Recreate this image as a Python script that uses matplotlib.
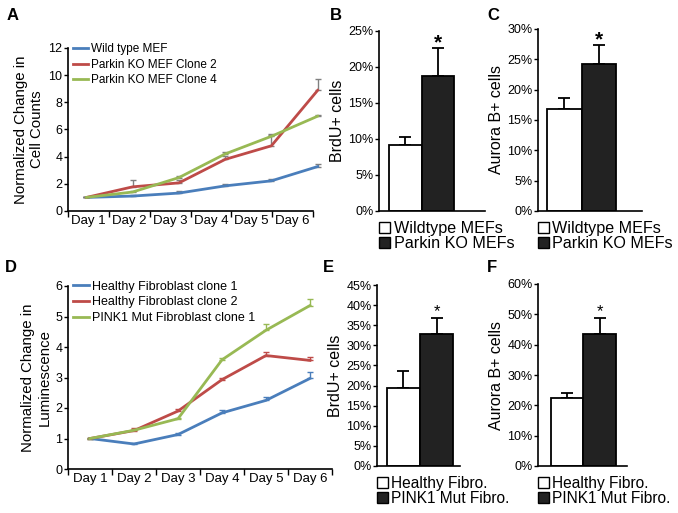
import matplotlib
matplotlib.use("Agg")
import matplotlib.pyplot as plt
import numpy as np
from matplotlib.patches import Patch

plt.rcParams['font.family'] = ['Liberation Sans', 'DejaVu Sans']

W, H = 678, 513
DPI = 100

# ---------------- data ----------------
days = ["Day 1", "Day 2", "Day 3", "Day 4", "Day 5", "Day 6"]

a_names = ["Wild type MEF", "Parkin KO MEF Clone 2", "Parkin KO MEF Clone 4"]
a_wt = [1.0, 1.1, 1.32, 1.85, 2.22, 3.27]
a_wt_err = [0.05, 0.08, 0.13, 0.15, 0.13, 0.17]
a_ko2 = [1.0, 1.78, 2.07, 3.8, 4.8, 8.88]
a_ko2_err = [0.05, 0.52, 0.2, 0.25, 0.85, 0.85]
a_ko4 = [1.0, 1.4, 2.46, 4.2, 5.5, 6.98]
a_ko4_err = [0.05, 0.1, 0.12, 0.15, 0.12, 0.1]

d_names = ["Healthy Fibroblast clone 1", "Healthy Fibroblast clone 2", "PINK1 Mut Fibroblast clone 1"]
d_h1 = [1.0, 0.82, 1.13, 1.84, 2.25, 2.97]
d_h1_err = [0.02, 0.03, 0.06, 0.1, 0.1, 0.22]
d_h2 = [1.0, 1.26, 1.9, 2.93, 3.72, 3.56]
d_h2_err = [0.02, 0.08, 0.08, 0.04, 0.1, 0.12]
d_pk = [1.0, 1.27, 1.65, 3.58, 4.55, 5.36]
d_pk_err = [0.02, 0.05, 0.03, 0.06, 0.22, 0.22]

mef_groups = ["Wildtype MEFs", "Parkin KO MEFs"]
fib_groups = ["Healthy Fibro.", "PINK1 Mut Fibro."]
b_vals = [9.1, 18.75]
b_err = [1.2, 3.85]
c_vals = [16.8, 24.2]
c_err = [1.9, 3.2]
e_vals = [19.5, 32.8]
e_err = [4.2, 4.1]
f_vals = [22.5, 43.5]
f_err = [1.7, 5.4]

colors = ["#4a7ebb", "#be4b48", "#98b954"]

fig = plt.figure(figsize=(W / DPI, H / DPI), dpi=DPI)


def add_ax(left, top, right, bottom):
    return fig.add_axes([left / W, 1 - bottom / H, (right - left) / W, (bottom - top) / H])


def style(ax):
    for s in ["top", "right"]:
        ax.spines[s].set_visible(False)
    for s in ["left", "bottom"]:
        ax.spines[s].set_linewidth(1.2)
    ax.tick_params(axis="y", direction="out", length=3, width=1.0, labelsize=9, pad=1)


def line_panel(ax, series, errs, names, xlim, ylim, yticks, err_colors, ylabel, legend_fs, leg_anchor):
    style(ax)
    x = np.arange(len(days))
    for s, e, c, n, ec in zip(series, errs, colors, names, err_colors):
        ax.plot(x, s, color=c, lw=2.0, label=n, clip_on=False, zorder=3)
        ax.errorbar(x, s, yerr=[np.zeros(len(e)), e], fmt="none", ecolor=ec,
                    elinewidth=1.0, capsize=2.5, capthick=1.0, clip_on=False, zorder=2)
    ax.set_xlim(*xlim)
    ax.set_ylim(*ylim)
    ax.set_yticks(yticks)
    bounds = np.linspace(xlim[0], xlim[1], len(days) + 1)
    mids = (bounds[:-1] + bounds[1:]) / 2
    ax.set_xticks(bounds)
    ax.set_xticklabels([""] * len(bounds))
    ax.set_xticks(mids, minor=True)
    ax.set_xticklabels(days, minor=True, fontsize=9.5)
    ax.tick_params(axis="x", which="major", direction="out", length=4, width=1.0)
    ax.tick_params(axis="x", which="minor", length=0, pad=3)
    ax.set_ylabel(ylabel, fontsize=10.8, linespacing=1.2, labelpad=3)
    ax.legend(loc="upper left", bbox_to_anchor=leg_anchor, frameon=False, fontsize=legend_fs,
              handlelength=1.25, handletextpad=0.25, labelspacing=0.3, borderaxespad=0,
              borderpad=0)


def bar_panel(ax, vals, errs, groups, xlim, ylim, yticks, ylabel, star_fs, star_weight, star_off,
              leg_fs):
    style(ax)
    x = np.arange(len(vals))
    ax.bar(x, vals, width=1.0, color=["white", "#222222"], edgecolor="black", linewidth=1.3, zorder=2)
    ax.errorbar(x, vals, yerr=[np.zeros(len(errs)), errs], fmt="none", ecolor="black",
                elinewidth=1.3, capsize=4.5, capthick=1.3, zorder=1)
    ax.text(x[1], vals[1] + errs[1] + star_off, "*", ha="center", va="bottom",
            fontsize=star_fs, fontweight=star_weight)
    ax.set_xlim(*xlim)
    ax.set_ylim(*ylim)
    ax.set_yticks(yticks)
    ax.set_yticklabels([f"{t:g}%" for t in yticks])
    ax.set_xticks([])
    ax.set_ylabel(ylabel, fontsize=11.5, labelpad=2)
    handles = [Patch(facecolor="white", edgecolor="black", linewidth=1.0),
               Patch(facecolor="#222222", edgecolor="black", linewidth=1.0)]
    ax.legend(handles, groups, loc="upper left", bbox_to_anchor=(0.0, -0.055), frameon=False,
              fontsize=leg_fs, handlelength=0.7, handleheight=0.7, handletextpad=0.2,
              labelspacing=0.0, borderaxespad=0, borderpad=0)


# Panel A
axA = add_ax(68, 48, 313, 211)
line_panel(axA, [a_wt, a_ko2, a_ko4], [a_wt_err, a_ko2_err, a_ko4_err], a_names,
           (-0.40, 4.90), (0, 12), np.arange(0, 13, 2), ["#808080"] * 3,
           "Normalized Change in\nCell Counts", 8.5, (0.02, 1.03))

# Panel D
axD = add_ax(68, 286, 332, 469)
line_panel(axD, [d_h1, d_h2, d_pk], [d_h1_err, d_h2_err, d_pk_err], d_names,
           (-0.5, 5.5), (0, 6), np.arange(0, 7, 1), colors,
           "Normalized Change in\nLuminescence", 9, (0.02, 1.03))

# Panel B
axB = add_ax(379, 31, 485, 211)
bar_panel(axB, b_vals, b_err, mef_groups, (-0.8, 2.44), (0, 25), np.arange(0, 26, 5),
          "BrdU+ cells", 15, "bold", -0.6, 11.6)

# Panel C
axC = add_ax(538, 29, 642, 211)
bar_panel(axC, c_vals, c_err, mef_groups, (-0.76, 2.25), (0, 30), np.arange(0, 31, 5),
          "Aurora B+ cells", 15, "bold", -0.7, 11.6)

# Panel E
axE = add_ax(377, 285, 460, 466)
bar_panel(axE, e_vals, e_err, fib_groups, (-0.8, 1.71), (0, 45), np.arange(0, 46, 5),
          "BrdU+ cells", 12, "normal", -0.5, 11.2)

# Panel F
axF = add_ax(538, 284, 627, 466)
bar_panel(axF, f_vals, f_err, fib_groups, (-0.9, 1.84), (0, 60), np.arange(0, 61, 10),
          "Aurora B+ cells", 12, "normal", -0.6, 11.2)

# Panel letters
for letter, px, py in [("A", 7, 8), ("B", 330, 8), ("C", 487, 8),
                       ("D", 5, 260), ("E", 323, 260), ("F", 487, 260)]:
    fig.text(px / W, 1 - py / H, letter, fontsize=12, fontweight="bold", ha="left", va="top")

fig.savefig("out.png", dpi=DPI)
